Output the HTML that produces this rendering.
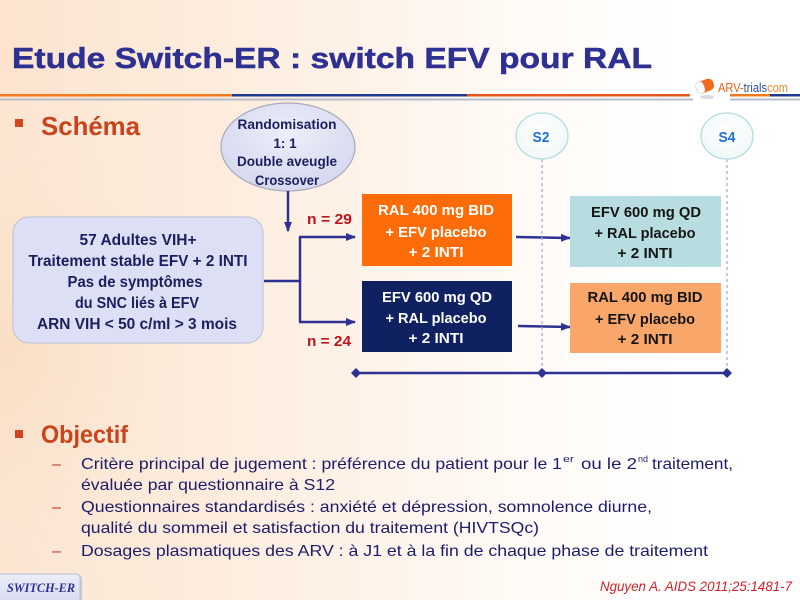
<!DOCTYPE html>
<html><head><meta charset="utf-8"><style>
html,body{margin:0;padding:0;}
body{width:800px;height:600px;overflow:hidden;background:#fff;}
svg{display:block;}
</style></head><body>
<svg width="800" height="600" viewBox="0 0 800 600" xmlns="http://www.w3.org/2000/svg">
<defs>
<linearGradient id="bg" x1="0" y1="0" x2="1" y2="0">
<stop offset="0" stop-color="#fce4cf"/>
<stop offset="0.35" stop-color="#fdefe2"/>
<stop offset="0.65" stop-color="#fffaf6"/>
<stop offset="0.85" stop-color="#ffffff"/>
</linearGradient>
<radialGradient id="burst" cx="0" cy="0.5" r="0.6">
<stop offset="0" stop-color="#f8dcc0" stop-opacity="0.8"/>
<stop offset="1" stop-color="#fdf0e4" stop-opacity="0"/>
</radialGradient>
<radialGradient id="ell" cx="0.5" cy="0.35" r="0.7">
<stop offset="0" stop-color="#eceef9"/>
<stop offset="1" stop-color="#d3d6ee"/>
</radialGradient>
<radialGradient id="circ" cx="0.5" cy="0.4" r="0.6">
<stop offset="0" stop-color="#ffffff"/>
<stop offset="1" stop-color="#f0f8f8"/>
</radialGradient>
<linearGradient id="badge" x1="0" y1="0" x2="0" y2="1">
<stop offset="0" stop-color="#eceef9"/>
<stop offset="1" stop-color="#d6d9f0"/>
</linearGradient>
<marker id="ah" markerWidth="10" markerHeight="10" refX="9" refY="5" orient="auto" markerUnits="userSpaceOnUse">
<path d="M0,1 L10,5 L0,9 Z" fill="#2e3192"/>
</marker>
</defs>

<rect width="800" height="600" fill="url(#bg)"/>
<rect x="0" y="100" width="420" height="500" fill="url(#burst)"/>

<!-- Title -->
<text x="12" y="68" font-family="Liberation Sans, sans-serif" font-weight="bold" font-size="29" fill="#2e3192" stroke="#2e3192" stroke-width="0.5" textLength="640" lengthAdjust="spacingAndGlyphs">Etude Switch-ER : switch EFV pour RAL</text>

<!-- header lines -->
<rect x="0" y="94" width="232" height="2.5" fill="#f47a20"/>
<rect x="232" y="94" width="235" height="2.5" fill="#1f3a93"/>
<rect x="467" y="94" width="223" height="2.5" fill="#e8541c"/>
<rect x="730" y="94" width="40" height="2.5" fill="#f47a20"/>
<rect x="770" y="94" width="30" height="2.5" fill="#1f3a93"/>
<rect x="0" y="98.5" width="693" height="2" fill="#b9bccb"/>
<rect x="730" y="98.5" width="70" height="2" fill="#b9bccb"/>

<!-- logo -->
<g>
<rect x="696" y="80" width="18" height="12" rx="5" fill="#f26a1b" transform="rotate(-20 705 86)"/>
<rect x="696" y="80" width="8" height="12" rx="4" fill="#fff" stroke="#ccc" stroke-width="0.6" transform="rotate(-20 705 86)"/>
<ellipse cx="707" cy="97" rx="7" ry="2" fill="#d8dbe4"/>
<text x="718" y="92" font-family="Liberation Sans, sans-serif" font-size="13" textLength="70" lengthAdjust="spacingAndGlyphs"><tspan fill="#e8641b">ARV-</tspan><tspan fill="#2a4fa0">trials</tspan><tspan fill="#f08a2c">com</tspan></text>
</g>

<!-- Schéma -->
<rect x="15" y="119" width="8" height="8" fill="#d2451c"/>
<text x="41" y="135" font-family="Liberation Sans, sans-serif" font-weight="bold" font-size="26" fill="#c8441c" textLength="99" lengthAdjust="spacingAndGlyphs">Schéma</text>

<!-- Randomisation ellipse -->
<ellipse cx="288" cy="147" rx="67" ry="44" fill="url(#ell)" stroke="#a8aabb" stroke-width="1.2"/>
<g font-family="Liberation Sans, sans-serif" font-weight="bold" font-size="13.5" fill="#1b1f5e" text-anchor="middle">
<text x="287" y="129" textLength="99" lengthAdjust="spacingAndGlyphs">Randomisation</text>
<text x="285" y="148">1: 1</text>
<text x="287" y="166" textLength="100" lengthAdjust="spacingAndGlyphs">Double aveugle</text>
<text x="287" y="185" textLength="64" lengthAdjust="spacingAndGlyphs">Crossover</text>
</g>

<!-- left box -->
<rect x="13" y="217" width="250" height="126" rx="16" fill="#dde0f4" stroke="#c3c6d8" stroke-width="1.2"/>
<g font-family="Liberation Sans, sans-serif" font-weight="bold" font-size="15.5" fill="#1b1f5e" text-anchor="middle">
<text x="138" y="245" textLength="117" lengthAdjust="spacingAndGlyphs">57 Adultes VIH+</text>
<text x="138" y="266" textLength="219" lengthAdjust="spacingAndGlyphs">Traitement stable EFV + 2 INTI</text>
<text x="135" y="287" textLength="135" lengthAdjust="spacingAndGlyphs">Pas de symptômes</text>
<text x="137" y="308" textLength="124" lengthAdjust="spacingAndGlyphs">du SNC liés à EFV</text>
<text x="137" y="329" textLength="200" lengthAdjust="spacingAndGlyphs">ARN VIH &lt; 50 c/ml &gt; 3 mois</text>
</g>

<!-- connectors -->
<g stroke="#2e3192" stroke-width="2.5" fill="none">
<line x1="288" y1="191" x2="288" y2="231" marker-end="url(#ah)"/>
<line x1="264" y1="281" x2="300" y2="281"/>
<line x1="300" y1="237" x2="300" y2="322"/>
<line x1="299" y1="237" x2="355" y2="237" marker-end="url(#ah)"/>
<line x1="299" y1="322" x2="355" y2="322" marker-end="url(#ah)"/>
<line x1="516" y1="237" x2="570" y2="238" marker-end="url(#ah)"/>
<line x1="518" y1="326" x2="570" y2="327" marker-end="url(#ah)"/>
</g>

<g font-family="Liberation Sans, sans-serif" font-weight="bold" font-size="15" fill="#c0141c">
<text x="307" y="224" textLength="45" lengthAdjust="spacingAndGlyphs">n = 29</text>
<text x="307" y="346" textLength="44" lengthAdjust="spacingAndGlyphs">n = 24</text>
</g>

<!-- dashed lines -->
<g stroke="#a7a2de" stroke-width="1.2" stroke-dasharray="3,3">
<line x1="542" y1="159" x2="542" y2="372"/>
<line x1="727" y1="159" x2="727" y2="372"/>
</g>

<!-- S2 / S4 circles -->
<ellipse cx="542" cy="136" rx="26" ry="23" fill="url(#circ)" stroke="#b4dcdd" stroke-width="1.3"/>
<ellipse cx="727" cy="136" rx="26" ry="23" fill="url(#circ)" stroke="#b4dcdd" stroke-width="1.3"/>
<g font-family="Liberation Sans, sans-serif" font-weight="bold" font-size="15" fill="#1f6fd6" text-anchor="middle">
<text x="541" y="142" textLength="17" lengthAdjust="spacingAndGlyphs">S2</text>
<text x="727" y="142" textLength="17" lengthAdjust="spacingAndGlyphs">S4</text>
</g>

<!-- boxes -->
<rect x="362" y="194" width="150" height="72" fill="#fd6c08"/>
<rect x="362" y="281" width="150" height="71" fill="#0f2160"/>
<rect x="570" y="196" width="151" height="71" fill="#b7dde1"/>
<rect x="570" y="283" width="151" height="70" fill="#f9a66b"/>

<g font-family="Liberation Sans, sans-serif" font-weight="bold" font-size="14.5" text-anchor="middle">
<g fill="#ffffff">
<text x="436" y="215" textLength="116" lengthAdjust="spacingAndGlyphs">RAL 400 mg BID</text>
<text x="436" y="237" textLength="101" lengthAdjust="spacingAndGlyphs">+ EFV placebo</text>
<text x="436" y="257" textLength="55" lengthAdjust="spacingAndGlyphs">+ 2 INTI</text>
<text x="437" y="302" textLength="110" lengthAdjust="spacingAndGlyphs">EFV 600 mg QD</text>
<text x="436" y="323" textLength="101" lengthAdjust="spacingAndGlyphs">+ RAL placebo</text>
<text x="436" y="343" textLength="55" lengthAdjust="spacingAndGlyphs">+ 2 INTI</text>
</g>
<g fill="#151515">
<text x="646" y="217" textLength="110" lengthAdjust="spacingAndGlyphs">EFV 600 mg QD</text>
<text x="645" y="238" textLength="101" lengthAdjust="spacingAndGlyphs">+ RAL placebo</text>
<text x="645" y="258" textLength="55" lengthAdjust="spacingAndGlyphs">+ 2 INTI</text>
<text x="645" y="302" textLength="115" lengthAdjust="spacingAndGlyphs">RAL 400 mg BID</text>
<text x="645" y="324" textLength="100" lengthAdjust="spacingAndGlyphs">+ EFV placebo</text>
<text x="645" y="344" textLength="55" lengthAdjust="spacingAndGlyphs">+ 2 INTI</text>
</g>
</g>

<!-- timeline -->
<line x1="356" y1="373" x2="727" y2="373" stroke="#2e3192" stroke-width="2.5"/>
<g fill="#2e3192">
<path d="M351,373 L356,368 L361,373 L356,378 Z"/>
<path d="M537,373 L542,368 L547,373 L542,378 Z"/>
<path d="M722,373 L727,368 L732,373 L727,378 Z"/>
</g>

<!-- Objectif -->
<rect x="15" y="430" width="8" height="8" fill="#d2451c"/>
<text x="41" y="443" font-family="Liberation Sans, sans-serif" font-weight="bold" font-size="25" fill="#c8441c" textLength="87" lengthAdjust="spacingAndGlyphs">Objectif</text>

<g font-family="Liberation Sans, sans-serif" font-size="16" fill="#c0392b">
<text x="52" y="469">–</text>
<text x="52" y="512">–</text>
<text x="52" y="556">–</text>
</g>
<g font-family="Liberation Sans, sans-serif" font-size="16" fill="#1c1c6b">
<text x="81" y="469" textLength="481" lengthAdjust="spacingAndGlyphs">Critère principal de jugement : préférence du patient pour le 1</text>
<text x="563" y="462" font-size="9.5" textLength="11" lengthAdjust="spacingAndGlyphs">er</text>
<text x="581" y="469" textLength="56" lengthAdjust="spacingAndGlyphs">ou le 2</text>
<text x="638" y="462" font-size="9.5" textLength="10" lengthAdjust="spacingAndGlyphs">nd</text>
<text x="652" y="469" textLength="81" lengthAdjust="spacingAndGlyphs">traitement,</text>
<text x="81" y="490" textLength="254" lengthAdjust="spacingAndGlyphs">évaluée par questionnaire à S12</text>
<text x="81" y="512" textLength="571" lengthAdjust="spacingAndGlyphs">Questionnaires standardisés : anxiété et dépression, somnolence diurne,</text>
<text x="81" y="533" textLength="458" lengthAdjust="spacingAndGlyphs">qualité du sommeil et satisfaction du traitement (HIVTSQc)</text>
<text x="81" y="556" textLength="627" lengthAdjust="spacingAndGlyphs">Dosages plasmatiques des ARV : à J1 et à la fin de chaque phase de traitement</text>
</g>

<!-- badge -->
<rect x="-6" y="575" width="88" height="30" rx="4" fill="#c8cadb"/>
<rect x="-6" y="574" width="86" height="30" rx="4" fill="url(#badge)" stroke="#b9bcd2" stroke-width="1"/>
<text x="7" y="592" font-family="Liberation Serif, serif" font-weight="bold" font-style="italic" font-size="12.5" fill="#2e3192" textLength="68" lengthAdjust="spacingAndGlyphs">SWITCH-ER</text>

<!-- citation -->
<text x="600" y="591" font-family="Liberation Sans, sans-serif" font-style="italic" font-size="14" fill="#d42027" textLength="192" lengthAdjust="spacingAndGlyphs">Nguyen A. AIDS 2011;25:1481-7</text>
</svg>
</body></html>
